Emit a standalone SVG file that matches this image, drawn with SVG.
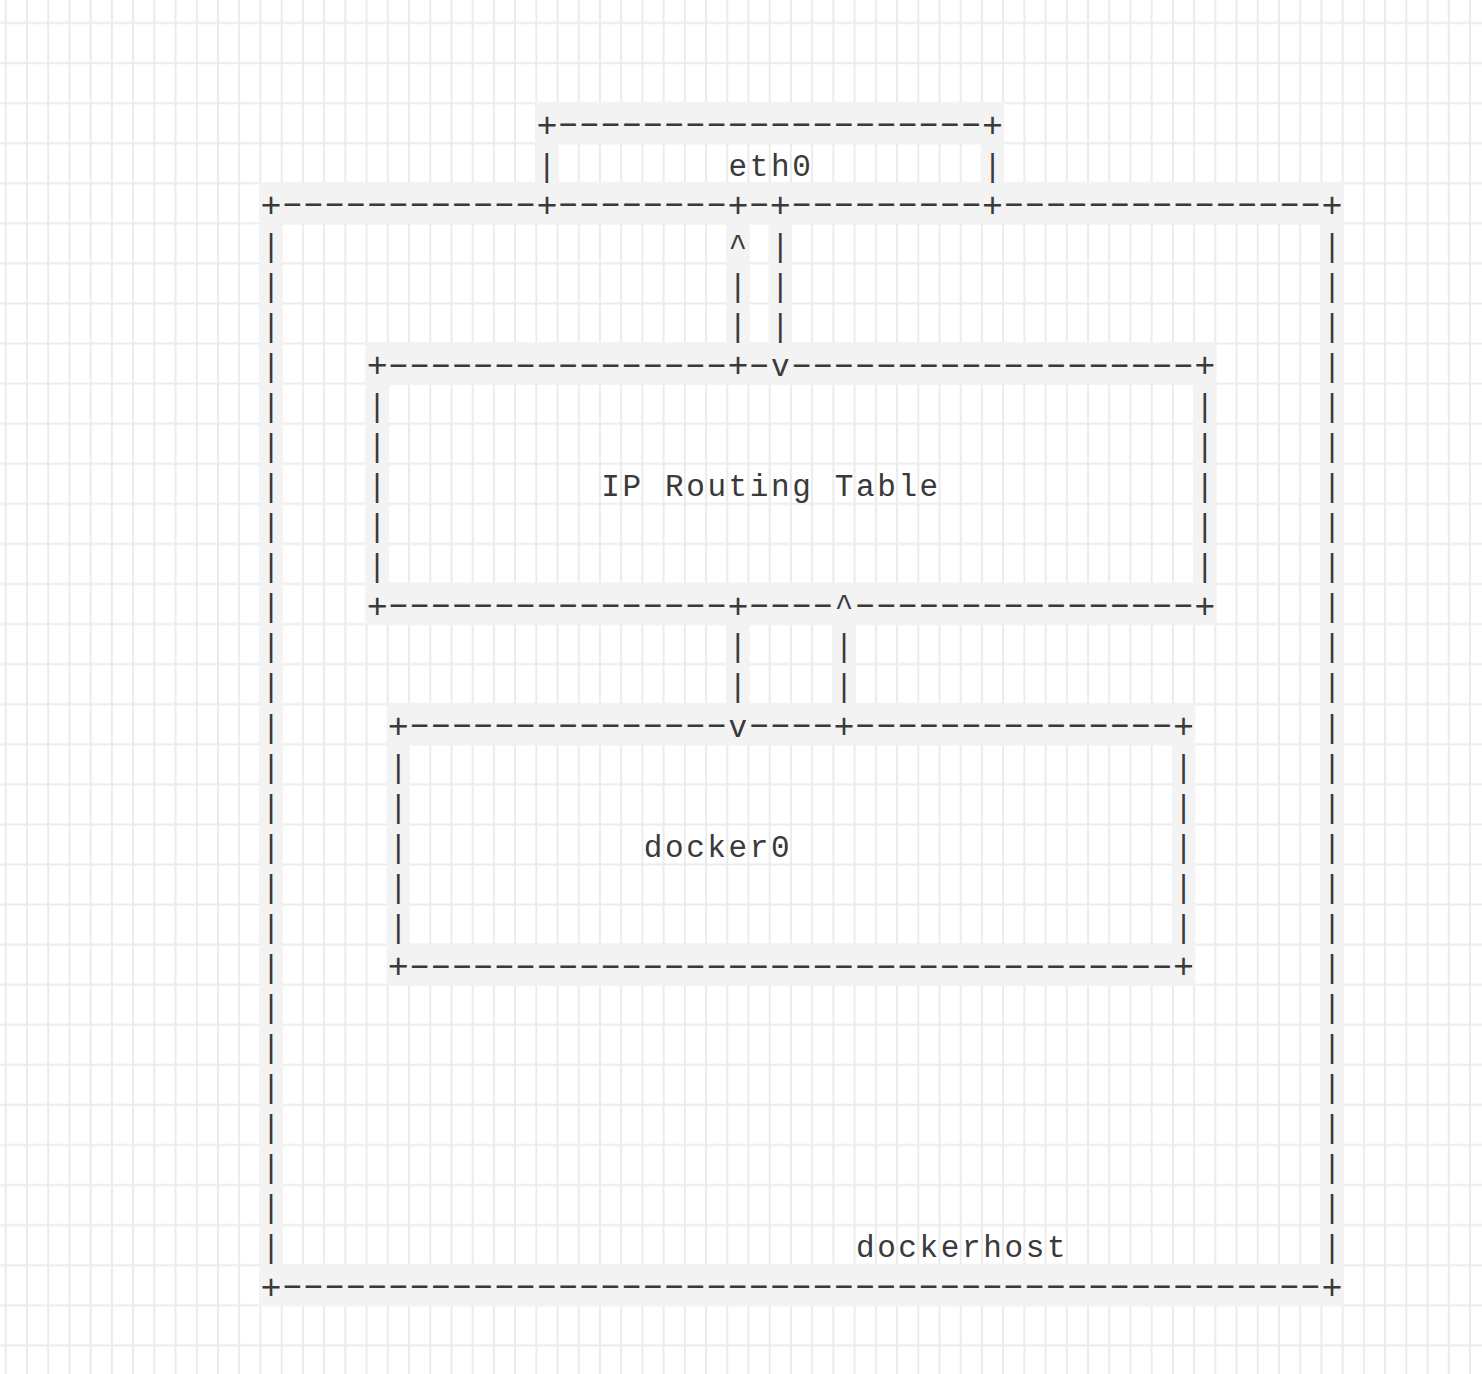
<svg xmlns="http://www.w3.org/2000/svg" width="1482" height="1374" viewBox="0 0 1482 1374">
<style>
.cell{fill:#f3f3f3}
.t{font-family:'Liberation Mono','Courier New',monospace;font-size:31px;letter-spacing:2.62px;fill:#3a3a3a}
.b{font-family:'Liberation Mono','Courier New',monospace;font-size:31px;fill:#3a3a3a}
.p{font-family:'Liberation Mono','Courier New',monospace;font-size:35px;fill:#3a3a3a}
.d{font-family:'Liberation Sans',Arial,sans-serif;font-size:63.72px;fill:#3a3a3a}
</style>
<defs>
<pattern id="grid" patternUnits="userSpaceOnUse" x="-4.81" y="2.965" width="21.22" height="40.07">
<path d="M10.61 0V40.07M0 20.035H21.22" stroke="#ebebeb" stroke-width="2" fill="none"/>
</pattern>
</defs>
<rect width="1482" height="1374" fill="#ffffff"/>
<rect width="1482" height="1374" fill="url(#grid)"/>

<g id="dockerhost">
<rect class="cell" x="259.44" y="182.14" width="1084.22" height="42.07"/>
<rect class="cell" x="259.44" y="222.21" width="23.22" height="1043.82"/>
<rect class="cell" x="1320.44" y="222.21" width="23.22" height="1043.82"/>
<rect class="cell" x="259.44" y="1264.03" width="1084.22" height="42.07"/>
<text class="p" x="260.55" y="217.04">+</text>
<text class="p" x="536.41" y="217.04">+</text>
<text class="p" x="727.39" y="217.04">+</text>
<text class="p" x="769.83" y="217.04">+</text>
<text class="p" x="982.03" y="217.04">+</text>
<text class="p" x="1321.55" y="217.04">+</text>
<text class="d" transform="translate(0 213.29) scale(1 0.5)" x="281.66" y="0">------------</text>
<text class="d" transform="translate(0 213.29) scale(1 0.5)" x="557.52" y="0">--------</text>
<text class="d" transform="translate(0 213.29) scale(1 0.5)" x="748.5" y="0">-</text>
<text class="d" transform="translate(0 213.29) scale(1 0.5)" x="790.94" y="0">---------</text>
<text class="d" transform="translate(0 213.29) scale(1 0.5)" x="1003.14" y="0">---------------</text>
<text class="b" x="261.75 261.75 261.75 261.75 261.75 261.75 261.75 261.75 261.75 261.75 261.75 261.75 261.75 261.75 261.75 261.75 261.75 261.75 261.75 261.75 261.75 261.75 261.75 261.75 261.75 261.75" y="255.71 295.78 335.85 375.92 415.99 456.06 496.13 536.2 576.27 616.34 656.41 696.48 736.55 776.62 816.69 856.76 896.83 936.9 976.97 1017.04 1057.11 1097.18 1137.25 1177.32 1217.39 1257.46">||||||||||||||||||||||||||</text>
<text class="b" x="1322.75 1322.75 1322.75 1322.75 1322.75 1322.75 1322.75 1322.75 1322.75 1322.75 1322.75 1322.75 1322.75 1322.75 1322.75 1322.75 1322.75 1322.75 1322.75 1322.75 1322.75 1322.75 1322.75 1322.75 1322.75 1322.75" y="255.71 295.78 335.85 375.92 415.99 456.06 496.13 536.2 576.27 616.34 656.41 696.48 736.55 776.62 816.69 856.76 896.83 936.9 976.97 1017.04 1057.11 1097.18 1137.25 1177.32 1217.39 1257.46">||||||||||||||||||||||||||</text>
<text class="t" x="855.91" y="1257.46">dockerhost</text>
<text class="p" x="260.55" y="1298.93">+</text>
<text class="p" x="1321.55" y="1298.93">+</text>
<text class="d" transform="translate(0 1295.18) scale(1 0.5)" x="281.66" y="0">-------------------------------------------------</text>
</g>

<g id="eth0">
<rect class="cell" x="535.3" y="102" width="468.84" height="42.07"/>
<rect class="cell" x="535.3" y="142.07" width="23.22" height="42.07"/>
<rect class="cell" x="980.92" y="142.07" width="23.22" height="42.07"/>
<text class="p" x="536.41" y="136.9">+</text>
<text class="p" x="982.03" y="136.9">+</text>
<text class="d" transform="translate(0 133.15) scale(1 0.5)" x="557.52" y="0">--------------------</text>
<text class="b" x="537.61" y="175.57">|</text>
<text class="t" x="728.59" y="175.57">eth0</text>
<text class="b" x="983.23" y="175.57">|</text>
</g>

<g id="ip-routing-table">
<rect class="cell" x="365.54" y="342.42" width="850.8" height="42.07"/>
<rect class="cell" x="365.54" y="382.49" width="23.22" height="202.35"/>
<rect class="cell" x="1193.12" y="382.49" width="23.22" height="202.35"/>
<rect class="cell" x="365.54" y="582.84" width="850.8" height="42.07"/>
<text class="p" x="366.65" y="377.32">+</text>
<text class="p" x="727.39" y="377.32">+</text>
<text class="p" x="1194.23" y="377.32">+</text>
<text class="d" transform="translate(0 373.57) scale(1 0.5)" x="387.76" y="0">----------------</text>
<text class="d" transform="translate(0 373.57) scale(1 0.5)" x="748.5" y="0">-</text>
<text class="d" transform="translate(0 373.57) scale(1 0.5)" x="790.94" y="0">-------------------</text>
<text class="b" x="367.85 367.85 367.85 367.85 367.85" y="415.99 456.06 496.13 536.2 576.27">|||||</text>
<text class="b" x="1195.43 1195.43 1195.43 1195.43 1195.43" y="415.99 456.06 496.13 536.2 576.27">|||||</text>
<text class="t" x="601.27" y="496.13">IP Routing Table</text>
<text class="p" x="366.65" y="617.74">+</text>
<text class="p" x="727.39" y="617.74">+</text>
<text class="p" x="1194.23" y="617.74">+</text>
<text class="d" transform="translate(0 613.99) scale(1 0.5)" x="387.76" y="0">----------------</text>
<text class="d" transform="translate(0 613.99) scale(1 0.5)" x="748.5" y="0">----</text>
<text class="d" transform="translate(0 613.99) scale(1 0.5)" x="854.6" y="0">----------------</text>
</g>

<g id="docker0">
<rect class="cell" x="386.76" y="703.05" width="808.36" height="42.07"/>
<rect class="cell" x="386.76" y="743.12" width="23.22" height="202.35"/>
<rect class="cell" x="1171.9" y="743.12" width="23.22" height="202.35"/>
<rect class="cell" x="386.76" y="943.47" width="808.36" height="42.07"/>
<text class="p" x="387.87" y="737.95">+</text>
<text class="p" x="833.49" y="737.95">+</text>
<text class="p" x="1173.01" y="737.95">+</text>
<text class="d" transform="translate(0 734.2) scale(1 0.5)" x="408.98" y="0">---------------</text>
<text class="d" transform="translate(0 734.2) scale(1 0.5)" x="748.5" y="0">----</text>
<text class="d" transform="translate(0 734.2) scale(1 0.5)" x="854.6" y="0">---------------</text>
<text class="b" x="389.07 389.07 389.07 389.07 389.07" y="776.62 816.69 856.76 896.83 936.9">|||||</text>
<text class="b" x="1174.21 1174.21 1174.21 1174.21 1174.21" y="776.62 816.69 856.76 896.83 936.9">|||||</text>
<text class="t" x="643.71" y="856.76">docker0</text>
<text class="p" x="387.87" y="978.37">+</text>
<text class="p" x="1173.01" y="978.37">+</text>
<text class="d" transform="translate(0 974.62) scale(1 0.5)" x="408.98" y="0">------------------------------------</text>
</g>

<g id="connectors">
<rect class="cell" x="726.28" y="222.21" width="23.22" height="122.21"/>
<rect class="cell" x="768.72" y="222.21" width="23.22" height="122.21"/>
<rect class="cell" x="726.28" y="622.91" width="23.22" height="82.14"/>
<rect class="cell" x="832.38" y="622.91" width="23.22" height="82.14"/>
<text class="b" x="728.59 728.59 728.59" y="255.71 295.78 335.85">^||</text>
<text class="b" x="771.03 771.03 771.03 771.03" y="255.71 295.78 335.85 375.92">|||v</text>
<text class="b" x="834.69 834.69 834.69" y="616.34 656.41 696.48">^||</text>
<text class="b" x="728.59 728.59 728.59" y="656.41 696.48 736.55">||v</text>
</g>
</svg>
